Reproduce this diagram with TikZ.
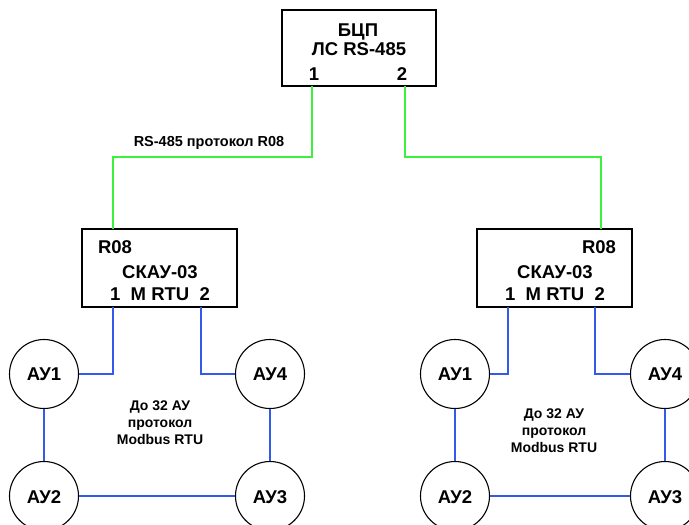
\documentclass[tikz,border=0pt]{standalone}
\usepackage{fontspec}
\setmainfont{Liberation Sans}
\begin{document}
\begin{tikzpicture}[x=1pt,y=-1pt,
  box/.style={draw=black,line width=1.1pt,fill=white,inner sep=0pt},
  au/.style={draw=black,line width=1.1pt,circle,minimum size=69pt,inner sep=0pt},
  gline/.style={draw={rgb,255:red,60;green,240;blue,60},line width=1.1pt},
  bline/.style={draw={rgb,255:red,50;green,90;blue,235},line width=1.1pt},
  big/.style={font=\bfseries\fontsize{18.5}{20}\selectfont,inner sep=0pt,anchor=base},
  small/.style={font=\bfseries\fontsize{14}{17}\selectfont,inner sep=0pt,align=center,anchor=base}]
\useasboundingbox (0,0) rectangle (689,525);
\clip (0,0) rectangle (689,525);
% top box
\node[box,minimum width=154pt,minimum height=76pt] (top) at (359,48) {};
\node[big] (t1) at (358,36) {БЦП};
\node[big] (t2) at (359,55) {ЛС RS-485};
\node[big] (t3) at (314,80) {1};
\node[big] (t4) at (402,80) {2};
\coordinate (tp1) at (312,86);
\coordinate (tp2) at (405,86);
% left box
\node[box,minimum width=155pt,minimum height=78pt] (lb) at (159.5,268) {};
\node[big] (l1) at (115,253) {R08};
\node[big] (l2) at (160,278) {СКАУ-03};
\node[big] (l3) at (160,300) {1\ \ M RTU\ \ 2};
\coordinate (lg) at (113,229);
\coordinate (lp1) at (113,307);
\coordinate (lp2) at (201,307);
% right box
\node[box,minimum width=155pt,minimum height=78pt] (rb) at (554.5,268) {};
\node[big] (r1) at (599,253) {R08};
\node[big] (r2) at (555,278) {СКАУ-03};
\node[big] (r3) at (555,300) {1\ \ M RTU\ \ 2};
\coordinate (rg) at (601,229);
\coordinate (rp1) at (508,307);
\coordinate (rp2) at (595,307);
% green bus
\node[small,font=\bfseries\fontsize{14.5}{17}\selectfont] (lab) at (209,146) {RS-485 протокол R08};
\draw[gline] (tp1) |- (113,157) -- (lg);
\draw[gline] (tp2) |- (601,157) -- (rg);
% left AU group
\node[au] (a1) at (44,374) {};
\node[au] (a4) at (270,374) {};
\node[au] (a2) at (44,496) {};
\node[au] (a3) at (270,496) {};
\node[big] (a1t) at (44,380) {АУ1};
\node[big] (a4t) at (270,380) {АУ4};
\node[big] (a2t) at (44,503) {АУ2};
\node[big] (a3t) at (270,503) {АУ3};
\node[small] (lt) at (160,444) {До 32 АУ\\протокол\\Modbus RTU};
\draw[bline] (lp1) |- (a1.east);
\draw[bline] (lp2) |- (a4.west);
\draw[bline] (a1) -- (a2);
\draw[bline] (a2) -- (a3);
\draw[bline] (a4) -- (a3);
% right AU group
\node[au] (b1) at (455,374) {};
\node[au] (b4) at (665,374) {};
\node[au] (b2) at (455,496) {};
\node[au] (b3) at (665,496) {};
\node[big] (b1t) at (455,380) {АУ1};
\node[big] (b4t) at (665,380) {АУ4};
\node[big] (b2t) at (455,503) {АУ2};
\node[big] (b3t) at (665,503) {АУ3};
\node[small] (rt) at (554,452) {До 32 АУ\\протокол\\Modbus RTU};
\draw[bline] (rp1) |- (b1.east);
\draw[bline] (rp2) |- (b4.west);
\draw[bline] (b1) -- (b2);
\draw[bline] (b2) -- (b3);
\draw[bline] (b4) -- (b3);
\end{tikzpicture}
\end{document}
